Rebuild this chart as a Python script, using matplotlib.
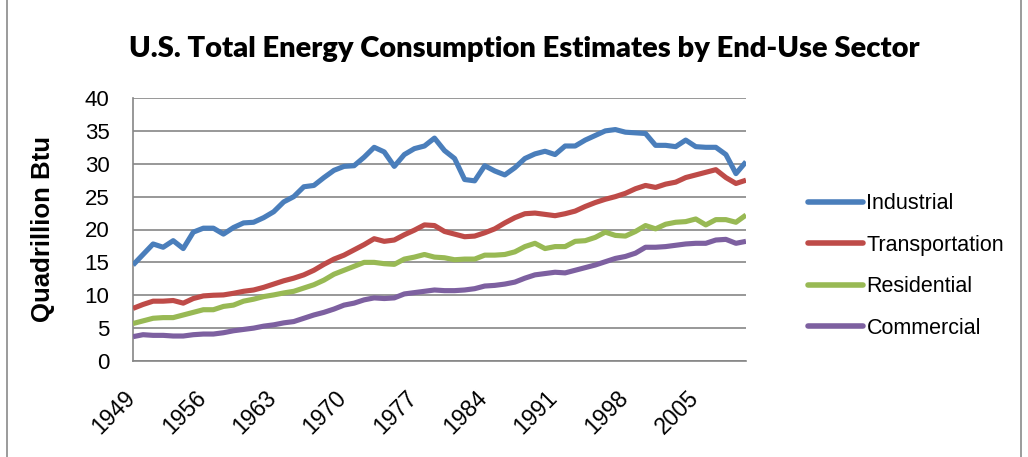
import matplotlib
matplotlib.use("Agg")
import matplotlib.pyplot as plt
from matplotlib.transforms import ScaledTranslation
from matplotlib.lines import Line2D

# ---- data (quadrillion Btu) ----
years = list(range(1949, 2011))
industrial = [14.6, 16.2, 17.8, 17.3, 18.3, 17.1, 19.6, 20.2, 20.2, 19.3,
              20.3, 21.0, 21.1, 21.8, 22.7, 24.2, 25.0, 26.5, 26.7, 27.9,
              29.0, 29.6, 29.7, 31.0, 32.5, 31.8, 29.6, 31.4, 32.3, 32.7,
              33.9, 32.0, 30.8, 27.6, 27.4, 29.7, 28.9, 28.3, 29.4, 30.8,
              31.5, 31.9, 31.4, 32.7, 32.7, 33.6, 34.3, 35.0, 35.2, 34.8,
              34.7, 34.6, 32.8, 32.8, 32.6, 33.6, 32.6, 32.5, 32.5, 31.4,
              28.5, 30.3]
transportation = [8.0, 8.6, 9.1, 9.1, 9.2, 8.8, 9.5, 9.9, 10.0, 10.05,
                  10.3, 10.6, 10.8, 11.2, 11.7, 12.2, 12.6, 13.1, 13.8, 14.7,
                  15.5, 16.1, 16.9, 17.7, 18.6, 18.2, 18.4, 19.2, 19.9, 20.7,
                  20.6, 19.7, 19.3, 18.9, 19.0, 19.5, 20.1, 21.0, 21.8, 22.4,
                  22.5, 22.3, 22.1, 22.4, 22.8, 23.5, 24.1, 24.6, 25.0, 25.5,
                  26.2, 26.7, 26.4, 26.9, 27.2, 27.9, 28.3, 28.7, 29.1, 27.9,
                  27.0, 27.5]
residential = [5.7, 6.1, 6.5, 6.6, 6.6, 7.0, 7.4, 7.8, 7.8, 8.3,
               8.5, 9.1, 9.4, 9.8, 10.05, 10.35, 10.6, 11.1, 11.6, 12.3,
               13.2, 13.8, 14.4, 15.0, 15.0, 14.8, 14.7, 15.5, 15.8, 16.2,
               15.8, 15.7, 15.4, 15.5, 15.5, 16.1, 16.1, 16.2, 16.6, 17.4,
               17.9, 17.1, 17.4, 17.4, 18.2, 18.3, 18.8, 19.6, 19.1, 19.0,
               19.7, 20.6, 20.1, 20.8, 21.1, 21.2, 21.6, 20.7, 21.5, 21.5,
               21.1, 22.2]
commercial = [3.7, 4.0, 3.9, 3.9, 3.8, 3.8, 4.0, 4.1, 4.1, 4.3,
              4.6, 4.8, 5.0, 5.3, 5.5, 5.8, 6.0, 6.5, 7.0, 7.4,
              7.9, 8.5, 8.8, 9.3, 9.6, 9.5, 9.6, 10.2, 10.4, 10.6,
              10.8, 10.7, 10.7, 10.8, 11.0, 11.4, 11.5, 11.7, 12.0, 12.6,
              13.1, 13.3, 13.5, 13.4, 13.8, 14.2, 14.6, 15.1, 15.6, 15.9,
              16.4, 17.3, 17.3, 17.4, 17.6, 17.8, 17.9, 17.9, 18.4, 18.5,
              17.9, 18.2]
series_names = ["Industrial", "Transportation", "Residential", "Commercial"]
x_tick_years = [1949, 1956, 1963, 1970, 1977, 1984, 1991, 1998, 2005]
y_ticks = [0, 5, 10, 15, 20, 25, 30, 35, 40]

colors = ["#4A7EBB", "#BE4B48", "#98B954", "#7D60A0"]
grid_color = "#868686"

W, H = 1028, 457
fig = plt.figure(figsize=(W / 100, H / 100), dpi=100)
ax = fig.add_axes([133 / W, 1 - 361 / H, (746 - 133) / W, (361 - 98) / H])

for vals, c, name in zip([industrial, transportation, residential, commercial], colors, series_names):
    ax.plot(years, vals, color=c, lw=3.7, label=name,
            solid_capstyle="butt", solid_joinstyle="round", zorder=3)

ax.set_xlim(years[0], years[-1])
ax.set_ylim(y_ticks[0], y_ticks[-1])
ax.set_yticks(y_ticks)
ax.set_yticklabels([str(v) for v in y_ticks], family="Liberation Sans", fontsize=16)
ax.yaxis.grid(True, color=grid_color, lw=1.2)
ax.set_axisbelow(True)
for s in ["top", "right"]:
    ax.spines[s].set_visible(False)
for s in ["left", "bottom"]:
    ax.spines[s].set_color(grid_color)
    ax.spines[s].set_linewidth(1.2)
ax.tick_params(axis="both", length=0)
ax.tick_params(axis="y", pad=17)

ax.set_xticks(x_tick_years)
ax.set_xticklabels([str(y) for y in x_tick_years], rotation=45, ha="right", va="center",
                   rotation_mode="anchor", family="Liberation Sans", fontsize=16.5)
ax.tick_params(axis="x", pad=24)
off = ScaledTranslation(-1.0 / 100, 0, fig.dpi_scale_trans)
for lab in ax.get_xticklabels():
    lab.set_transform(lab.get_transform() + off)

ax.set_ylabel("Quadrillion Btu", family="Liberation Sans", fontweight="bold", fontsize=18.5)
ax.yaxis.set_label_coords(55 / W, 0.5, transform=fig.transFigure)

fig.text(524 / W, 1 - 49 / H, "U.S. Total Energy Consumption Estimates by End-Use Sector",
         ha="center", va="center", family="Lato", fontweight="heavy", fontsize=21)

leg = ax.legend(loc="center left", bbox_to_anchor=(789 / W, 1 - 266 / H),
                bbox_transform=fig.transFigure, frameon=False,
                prop={"family": "Liberation Sans", "size": 15.5},
                handlelength=2.55, handletextpad=0.15, labelspacing=0.95)
for h in leg.legend_handles:
    h.set_linewidth(4)
    h.set_solid_capstyle("round")

# outer chart border
fig.add_artist(Line2D([7 / W, 7 / W], [0, 1], transform=fig.transFigure, color="#8a8a8a", lw=1.2))
fig.add_artist(Line2D([1021 / W, 1021 / W], [0, 1], transform=fig.transFigure, color="#8a8a8a", lw=1.2))

fig.savefig("out.png", dpi=100)
